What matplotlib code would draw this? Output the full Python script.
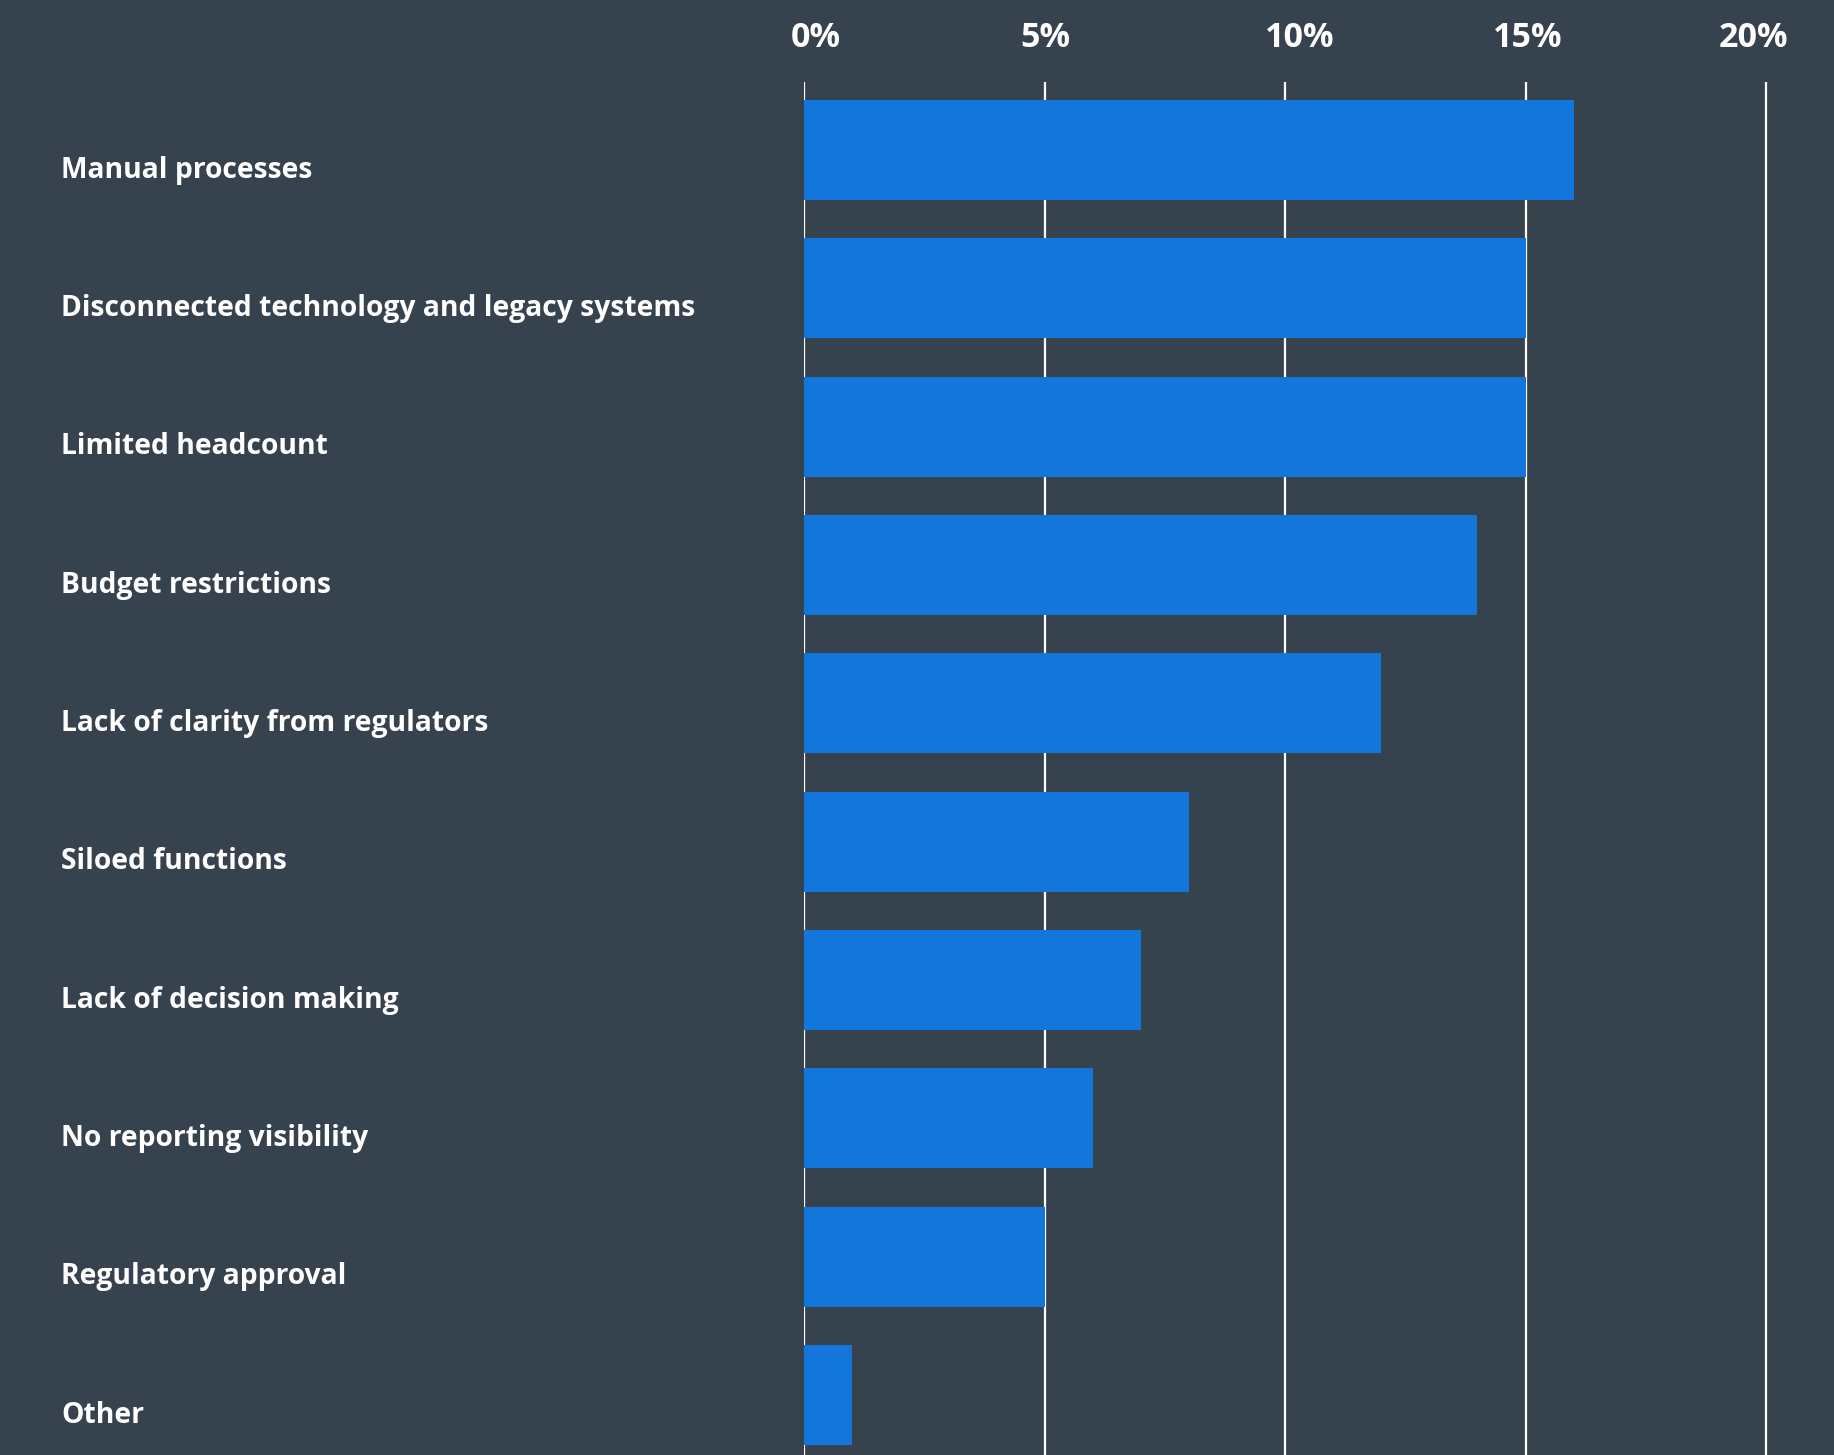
import matplotlib.pyplot as plt
import matplotlib.transforms as mtransforms
import numpy as np

categories = [
    "Manual processes",
    "Disconnected technology and legacy systems",
    "Limited headcount",
    "Budget restrictions",
    "Lack of clarity from regulators",
    "Siloed functions",
    "Lack of decision making",
    "No reporting visibility",
    "Regulatory approval",
    "Other",
]
shares = [16, 15, 15, 14, 12, 8, 7, 6, 5, 1]
ticks = [0, 5, 10, 15, 20]
tick_labels = ["0%", "5%", "10%", "15%", "20%"]
# the percent labels don't sit exactly over their gridlines (pixels)
label_nudge = [12, 1, 15, 2, -13]

BG = "#36434f"
BAR = "#1376db"
FONT = ["Open Sans", "DejaVu Sans"]

fig = plt.figure(figsize=(18.34, 14.55), dpi=100, facecolor=BG)
ax = fig.add_axes([804 / 1834, 0, 1030 / 1834, 1373 / 1455])
ax.set_facecolor(BG)

y = np.arange(len(categories))
ax.barh(y, shares, height=0.723, color=BAR, zorder=3)

ax.set_xlim(0, 20 * 1030 / 962)
ax.set_ylim(9.434, -0.492)

ax.set_xticks(ticks)
ax.tick_params(axis="x", length=0, labelbottom=False)
ax.set_yticks([])
ax.grid(axis="x", color="white", linewidth=1.6, zorder=0)
for s in ax.spines.values():
    s.set_visible(False)

# percent labels above the plot
for t, lab, dx in zip(ticks, tick_labels, label_nudge):
    tr = mtransforms.offset_copy(ax.get_xaxis_transform(), fig=fig,
                                 x=dx, y=35, units="dots")
    ax.text(t, 1, lab, transform=tr, ha="center", va="baseline",
            fontsize=24.5, fontweight="bold", color="white", family=FONT,
            clip_on=False)

# category names sit left of the plot, a touch below each bar centre
for i, name in enumerate(categories):
    ax.text(-743 / 1030, i + 0.2, name, transform=ax.get_yaxis_transform(),
            ha="left", va="baseline", fontsize=20.3, fontweight="bold",
            color="white", family=FONT)

fig.savefig("out.png", dpi=100, facecolor=BG)
